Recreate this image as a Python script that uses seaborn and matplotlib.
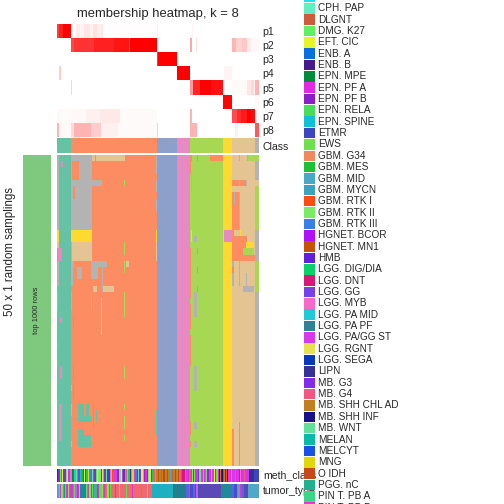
import numpy as np
import pandas as pd
import matplotlib
matplotlib.use('Agg')
import matplotlib.pyplot as plt
import seaborn as sns
from matplotlib.colors import ListedColormap, LinearSegmentedColormap
from matplotlib.patches import Rectangle

sns.set_theme(style='white')
plt.rcParams['font.family'] = ['Liberation Sans', 'DejaVu Sans']

# ─────────────────────────────────────────
# DATA
# ─────────────────────────────────────────
class_sizes = [14, 86, 20, 13, 33, 9, 23, 4]          # samples per consensus class
class_colors = ['#66C2A5', '#FC8D62', '#8DA0CB', '#E78AC3',
                '#A6D854', '#FFD92F', '#E5C494', '#B3B3B3']
row_names = ['p1', 'p2', 'p3', 'p4', 'p5', 'p6', 'p7', 'p8']

# membership runs per row: (number of samples, membership)
p1 = [(2, .75), (4, .88), (8, 1.), (5, .02), (4, .08), (4, .04), (6, .10), (3, .05),
      (4, .12), (4, .06), (2, .10), (54, .01), (1, .06), (34, 0), (1, .05), (66, 0)]
p2 = [(14, 0), (3, .72), (20, .80), (20, .87), (15, .92), (1, .65), (27, 1.), (33, 0),
      (2, .35), (4, 0), (1, .12), (35, 0), (4, .30), (6, .18), (5, .22), (4, .08), (8, .03)]
p3 = [(100, 0), (1, .8), (19, 1.), (82, 0)]
p4 = [(2, 0), (2, .2), (116, 0), (13, 1.), (34, 0), (8, .05), (27, 0)]
p5 = [(14, 0), (1, .18), (118, 0), (3, .4), (7, .85), (11, 1.), (12, .93), (9, 0),
      (15, .02), (4, .1), (3, .15), (1, .05), (4, .3)]
p6 = [(166, 0), (9, .98), (23, 0), (4, .02)]
p7 = [(14, .02), (15, .03), (14, .06), (20, .09), (37, .02), (33, 0), (2, .3), (40, 0),
      (5, .7), (4, .82), (6, .9), (4, 1.), (4, .95), (4, .02)]
p8 = [(2, .3), (12, .02), (3, .15), (17, .3), (10, .2), (17, .06), (39, .02), (1, .2),
      (32, 0), (7, .3), (38, 0), (3, .06), (17, 0), (4, .65)]
membership_runs = [p1, p2, p3, p4, p5, p6, p7, p8]

n_samplings = 50
# class in a sampling that differs from the consensus:
# (first sampling, last sampling + 1, first sample, last sample + 1, class)
deviations = [
    (0, 12, 0, 2, 8), (12, 14, 0, 2, 6), (14, 15, 0, 2, 7), (17, 21, 0, 2, 8),
    (21, 22, 0, 1, 2), (22, 25, 0, 1, 8),
    (25, 26, 0, 1, 2), (30, 31, 0, 1, 2), (33, 34, 0, 1, 2), (36, 37, 0, 1, 2), (39, 49, 0, 1, 2),
    (1, 2, 4, 6, 4), (15, 17, 1, 5, 4), (26, 27, 3, 5, 4), (34, 36, 3, 5, 4), (40, 46, 2, 5, 4),
    (0, 1, 14, 35, 8), (0, 1, 35, 68, 7), (0, 1, 38, 39, 2),
    (1, 4, 14, 15, 8), (1, 4, 22, 35, 8),
    (4, 5, 14, 45, 8),
    (5, 12, 14, 35, 8), (5, 7, 16, 18, 2),
    (12, 14, 14, 35, 6),
    (14, 17, 14, 35, 7), (14, 17, 14, 15, 8),
    (17, 18, 14, 17, 8), (17, 18, 34, 50, 8),
    (18, 21, 14, 16, 8), (18, 20, 20, 25, 8), (18, 20, 34, 41, 8), (17, 22, 45, 46, 8),
    (21, 22, 36, 40, 7), (21, 22, 46, 57, 7),
    (22, 25, 14, 15, 8), (22, 25, 34, 35, 8),
    (23, 29, 44, 45, 7),
    (40, 43, 21, 27, 1), (40, 42, 29, 32, 1), (42, 43, 27, 35, 1), (40, 44, 36, 37, 1),
    (41, 43, 39, 40, 1), (44, 47, 21, 27, 1), (45, 47, 27, 34, 1),
    (26, 28, 16, 17, 1), (34, 36, 16, 17, 1), (37, 39, 16, 17, 1),
    (37, 38, 14, 15, 5), (40, 42, 14, 15, 5), (46, 47, 14, 15, 5),
    (4, 5, 67, 68, 5), (14, 16, 67, 68, 5), (17, 19, 67, 68, 5), (22, 26, 67, 68, 5),
    (34, 36, 67, 68, 5), (40, 41, 67, 68, 5), (42, 44, 67, 68, 5), (45, 46, 67, 68, 5),
    (17, 18, 69, 72, 7),
    (0, 3, 99, 100, 8), (4, 6, 99, 100, 8), (7, 9, 99, 100, 8), (12, 14, 99, 100, 6),
    (14, 17, 99, 100, 7), (41, 45, 99, 100, 1),
    (0, 1, 133, 135, 2), (1, 3, 133, 134, 2), (3, 6, 134, 135, 8), (12, 14, 134, 135, 6),
    (15, 23, 133, 134, 2), (24, 28, 133, 134, 2), (29, 34, 133, 134, 2), (43, 45, 133, 134, 2),
    (46, 47, 133, 134, 2),
    (13, 14, 137, 140, 8), (22, 26, 137, 140, 8), (34, 38, 137, 140, 8), (43, 44, 137, 140, 8),
    (46, 47, 137, 140, 8),
    (0, 1, 140, 141, 2), (15, 16, 140, 141, 2), (18, 19, 140, 141, 2), (21, 22, 140, 141, 2),
    (0, 1, 153, 166, 2),
    (12, 14, 167, 175, 4),
    (0, 1, 182, 183, 8), (0, 1, 190, 191, 8), (0, 1, 191, 202, 5),
    (4, 5, 175, 182, 2), (4, 5, 182, 183, 8), (4, 5, 183, 189, 2), (4, 5, 189, 190, 8),
    (4, 5, 190, 202, 7),
    (5, 12, 198, 202, 5),
    (6, 12, 175, 182, 2), (6, 8, 177, 178, 8), (6, 12, 182, 183, 8),
    (12, 13, 175, 177, 2), (12, 13, 183, 184, 6),
    (13, 17, 175, 190, 2), (14, 15, 189, 197, 6), (15, 16, 186, 197, 5), (16, 17, 175, 198, 2),
    (17, 21, 175, 177, 8), (17, 21, 182, 183, 8), (18, 19, 175, 177, 2), (19, 21, 189, 190, 8),
    (21, 22, 186, 197, 8), (17, 22, 198, 202, 5),
    (44, 50, 175, 177, 2), (43, 50, 182, 183, 2),
]

meth_legend = ['CPH. ADM', 'CPH. PAP', 'DLGNT', 'DMG. K27', 'EFT. CIC', 'ENB. A', 'ENB. B',
               'EPN. MPE', 'EPN. PF A', 'EPN. PF B', 'EPN. RELA', 'EPN. SPINE', 'ETMR', 'EWS',
               'GBM. G34', 'GBM. MES', 'GBM. MID', 'GBM. MYCN', 'GBM. RTK I', 'GBM. RTK II',
               'GBM. RTK III', 'HGNET. BCOR', 'HGNET. MN1', 'HMB', 'LGG. DIG/DIA', 'LGG. DNT',
               'LGG. GG', 'LGG. MYB', 'LGG. PA MID', 'LGG. PA PF', 'LGG. PA/GG ST', 'LGG. RGNT',
               'LGG. SEGA', 'LIPN', 'MB. G3', 'MB. G4', 'MB. SHH CHL AD', 'MB. SHH INF',
               'MB. WNT', 'MELAN', 'MELCYT', 'MNG', 'O IDH', 'PGG. nC', 'PIN T. PB A', 'PIN T. PB B']
meth_colors = ['#1DE3F0', '#5EF0C0', '#CD5C3A', '#5EF060', '#E5F52A', '#0A6EE0', '#4B1A8A',
               '#008B3A', '#E02AE8', '#8B1EC8', '#48DC5A', '#10C0D8', '#3C46C0', '#6EE050',
               '#F08A5E', '#1EC03A', '#48A8C8', '#40A0C0', '#FF4A14', '#78EC64',
               '#3A7EE8', '#B010F8', '#C85008', '#6020D8', '#0AD068', '#D81878',
               '#7840E8', '#F868C8', '#20C8D8', '#308098', '#D838E8', '#E8E050',
               '#0838B8', '#383098', '#8828E8', '#F05880', '#C08020', '#181088',
               '#60E098', '#08B8A8', '#1850E8', '#E0D808', '#C84818', '#20B090', '#38D888',
               '#E040D0']

# meth_class per sample (runs of legend index)
meth_runs = [(1, 32), (2, 34), (1, 3), (1, 30), (1, 4), (2, 34), (1, 19), (1, 31), (1, 8), (1, 18),
             (2, 27), (1, 7), (1, 5), (2, 28), (1, 3), (1, 35), (2, 26), (1, 11), (1, 15), (1, 21),
             (1, 4), (1, 12), (2, 24), (1, 41), (1, 30), (2, 20), (1, 38), (1, 8), (2, 34), (1, 13),
             (1, 4), (2, 19), (1, 25), (1, 31), (1, 10), (2, 34), (1, 3), (1, 9), (2, 40), (1, 27),
             (1, 41), (1, 18), (1, 15), (2, 30), (1, 5), (1, 34), (2, 19), (1, 4), (1, 8), (2, 12),
             (1, 28), (1, 35), (1, 3), (2, 24), (1, 33), (1, 10), (1, 41), (1, 30), (2, 20), (1, 34),
             (1, 38), (1, 7), (1, 26), (2, 4), (1, 13), (1, 21), (2, 8), (1, 34), (1, 19), (1, 31),
             (1, 5), (1, 24), (2, 35), (1, 10),
             (2, 36), (1, 22), (2, 36), (1, 2), (1, 36), (2, 42), (1, 36), (1, 22), (2, 36), (1, 16),
             (1, 36), (1, 2), (2, 36), (1, 42), (2, 36), (1, 22),
             (2, 35), (1, 8), (2, 25), (1, 35), (2, 30), (1, 8), (2, 35),
             (1, 8), (1, 19), (1, 34), (1, 13), (2, 8), (1, 18), (1, 34), (1, 3), (2, 30), (1, 19),
             (1, 8), (1, 35), (1, 13), (2, 34), (1, 18), (1, 8), (1, 19), (2, 30), (1, 4), (1, 34),
             (1, 13), (1, 8),
             (1, 37), (1, 36), (1, 6), (1, 37), (1, 22), (1, 36), (1, 33), (1, 18), (1, 6),
             (2, 30), (1, 8), (1, 27), (2, 30), (1, 35), (1, 8), (2, 30), (1, 34), (1, 27), (1, 8),
             (2, 30), (1, 35), (2, 30), (1, 8), (1, 30),
             (4, 33), (5, 12)]

tumor_colors = ['#2CC46A', '#1E8A9A', '#58E05A', '#D838D0', '#1EB0C0', '#1F8090', '#5B4AB5',
                '#F06870', '#4FA8C8', '#6060E0', '#8CE048', '#10A080', '#C060E8', '#3C50D8']
tumor_runs = [(1, 0), (1, 8), (1, 2), (1, 3), (2, 10), (1, 0), (1, 11), (1, 2), (2, 3), (1, 10),
              (1, 4), (2, 3), (1, 0), (1, 2), (2, 12), (1, 1), (1, 3), (1, 10), (6, 1), (1, 2),
              (1, 0), (1, 3), (2, 10), (1, 11), (1, 2), (1, 3), (1, 8), (2, 0), (1, 1), (1, 3),
              (2, 2), (1, 10), (1, 4), (1, 3), (1, 0), (1, 7), (2, 10), (1, 3), (1, 2),
              (4, 7), (1, 3), (3, 7), (1, 10), (6, 7), (1, 2), (4, 7), (1, 3), (8, 7), (1, 0),
              (5, 7), (1, 10), (4, 7),
              (20, 4), (13, 5), (2, 9), (1, 3), (2, 6), (1, 13), (2, 9), (1, 6), (2, 12),
              (22, 6), (11, 1), (2, 9), (1, 13), (2, 6), (1, 12), (2, 8), (1, 3), (3, 9), (3, 6),
              (11, 8)]

# ─────────────────────────────────────────
# BUILD MATRICES
# ─────────────────────────────────────────
def expand(runs):
    return np.concatenate([np.full(n, v, dtype=float) for n, v in runs])

membership = pd.DataFrame([expand(r) for r in membership_runs], index=row_names)
consensus = np.repeat(np.arange(1, 9), class_sizes)
n_samples = len(consensus)

samplings = np.tile(consensus, (n_samplings, 1))
for r0, r1, c0, c1, k in deviations:
    samplings[r0:r1, c0:c1] = k

meth = expand(meth_runs).astype(int)
tumor = expand(tumor_runs).astype(int)

# ─────────────────────────────────────────
# PLOT
# ─────────────────────────────────────────
W = 504
fig = plt.figure(figsize=(7, 7), dpi=72)


def px_axes(x0, y0, x1, y1):
    return fig.add_axes([x0 / W, 1 - y1 / W, (x1 - x0) / W, (y1 - y0) / W])


red_cmap = LinearSegmentedColormap.from_list('wr', ['white', 'red'])
class_cmap = ListedColormap(class_colors)

ax_mem = px_axes(57, 24, 259, 137)
sns.heatmap(membership, ax=ax_mem, cmap=red_cmap, vmin=0, vmax=1, cbar=False,
            xticklabels=False, yticklabels=row_names)
ax_mem.yaxis.tick_right()
ax_mem.tick_params(axis='y', length=0, pad=3, labelsize=10.5, labelrotation=0)
ax_mem.set_ylabel('')
ax_mem.set_title('membership heatmap, k = 8', fontsize=13, pad=7)

ax_cls = px_axes(57, 138, 259, 153)
sns.heatmap(consensus[None, :], ax=ax_cls, cmap=class_cmap, vmin=0.5, vmax=8.5, cbar=False,
            xticklabels=False, yticklabels=['Class'])
ax_cls.yaxis.tick_right()
ax_cls.tick_params(axis='y', length=0, pad=3, labelsize=10.5, labelrotation=0)

ax_main = px_axes(57, 155, 259, 466)
sns.heatmap(samplings, ax=ax_main, cmap=class_cmap, vmin=0.5, vmax=8.5, cbar=False,
            xticklabels=False, yticklabels=False)

ax_side = px_axes(23, 155, 51, 466)
sns.heatmap([[1]], ax=ax_side, cmap=ListedColormap(['#7FC97F']), cbar=False,
            xticklabels=False, yticklabels=False)
ax_side.text(0.5, 0.5, 'top 1000 rows', rotation=90, ha='center', va='center', fontsize=7.5)
fig.text(10 / W, 1 - 252 / W, '50 x 1 random samplings', rotation=90,
         ha='center', va='center', fontsize=11.5)

ax_meth = px_axes(57, 469, 259, 482)
sns.heatmap(meth[None, :], ax=ax_meth, cmap=ListedColormap(meth_colors), vmin=-0.5,
            vmax=len(meth_colors) - 0.5, cbar=False, xticklabels=False, yticklabels=False)
ax_tum = px_axes(57, 484, 259, 498)
sns.heatmap(tumor[None, :], ax=ax_tum, cmap=ListedColormap(tumor_colors), vmin=-0.5,
            vmax=len(tumor_colors) - 0.5, cbar=False, xticklabels=False, yticklabels=False)
fig.text(263 / W, 1 - 475.5 / W, 'meth_class', ha='left', va='center', fontsize=10.5)
fig.text(263 / W, 1 - 491 / W, 'tumor_type', ha='left', va='center', fontsize=10.5)

# legend for meth_class (runs off the top and bottom of the figure)
ax_leg = fig.add_axes([0, 0, 1, 1], zorder=5)
ax_leg.set_xlim(0, W)
ax_leg.set_ylim(W, 0)
ax_leg.axis('off')
step = 11.35
for i, (name, col) in enumerate(zip(meth_legend, meth_colors)):
    yc = -3.1 + i * step
    ax_leg.add_patch(Rectangle((304, yc - step / 2 + 0.4), 11, step - 0.8,
                               facecolor=col, edgecolor='none'))
    ax_leg.text(318, yc, name, ha='left', va='center', fontsize=10)

fig.savefig('out.png', dpi=72)
